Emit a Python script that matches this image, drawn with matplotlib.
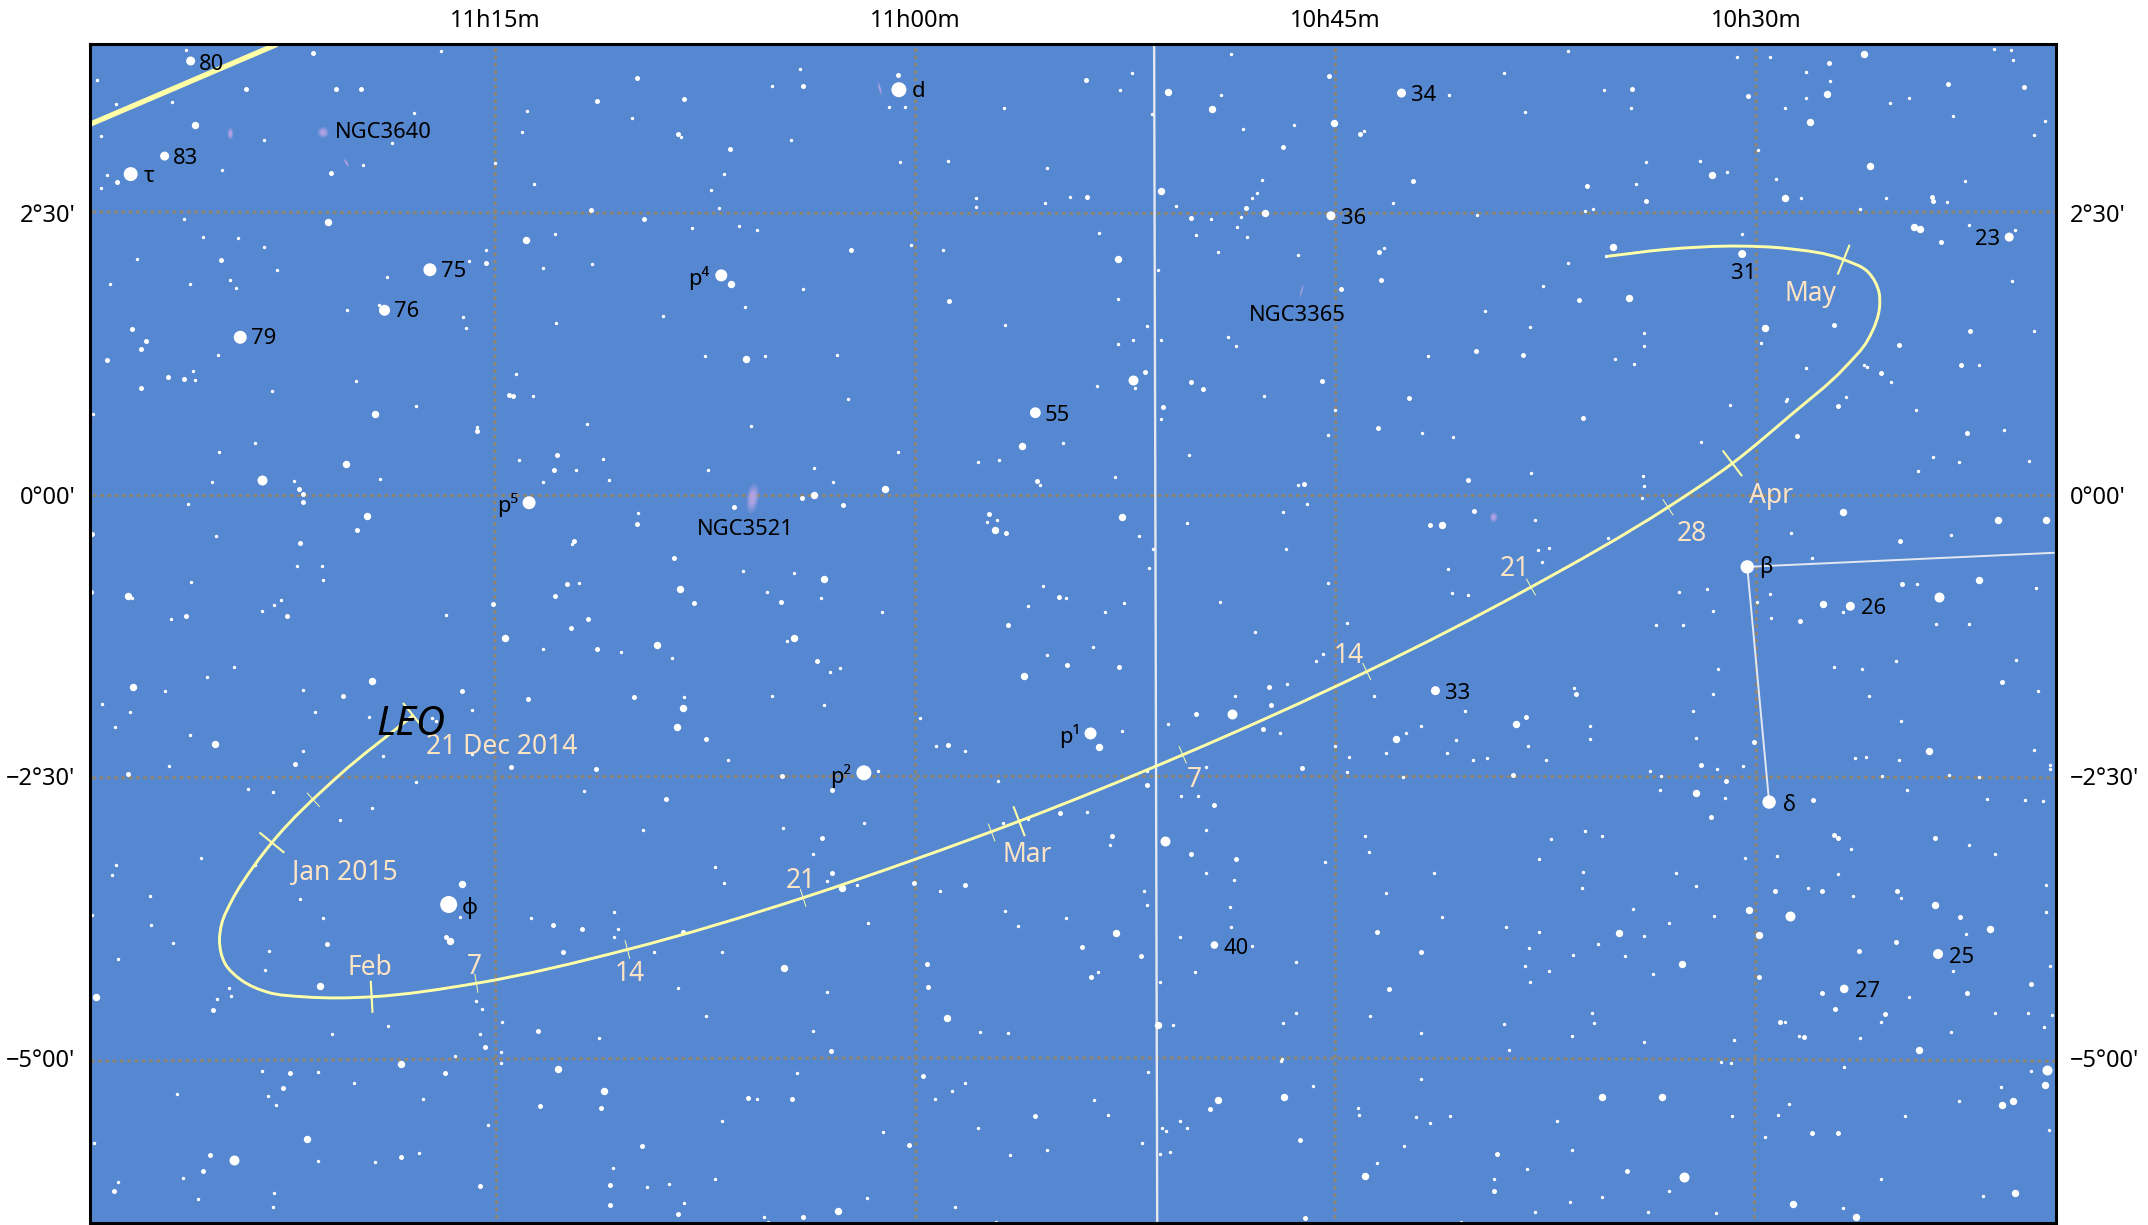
import numpy as np
import matplotlib
matplotlib.use("Agg")
import matplotlib.pyplot as plt
from matplotlib.path import Path
from matplotlib.patches import PathPatch
from matplotlib.collections import EllipseCollection

plt.rcParams['font.family'] = ['Noto Sans', 'DejaVu Sans']

# All sky positions: (right ascension in minutes after 10h, declination in degrees)
faint_stars = [
(86.05,3.95),(76.93,3.94),(89.20,3.69),(73.87,3.41),(88.52,3.47),(86.54,3.49),(77.88,3.39),(70.13,3.35),(89.08,3.19),(83.26,3.15),
(78.67,3.13),(74.04,3.22),(68.35,3.18),(75.00,2.95),(84.74,2.89),(79.73,2.93),(88.85,2.84),(89.08,2.73),(73.61,2.76),(86.10,2.45),
(85.43,2.29),(84.17,2.28),(83.24,2.20),(72.88,2.32),(67.98,2.37),(87.80,2.10),(75.32,2.18),(75.94,2.08),(82.79,2.00),(73.31,2.02),
(71.55,2.05),(78.86,1.94),(84.47,1.91),(88.74,1.87),(85.89,1.87),(84.25,1.84),(79.16,1.69),(80.29,1.64),(76.15,1.58),(76.03,1.48),
(72.83,1.53),(69.00,1.59),(84.90,1.24),(85.78,1.10),(85.71,1.02),(79.97,1.01),(82.95,0.92),(74.27,1.07),(73.66,0.88),
(89.35,.72),(77.82,.79),(75.65,.60),(71.73,.63),(83.56,.46),(84.87,.38),(74.14,.31),(71.16,.32),(72.11,.22),(79.11,.14),(85.11,.11),
(82.19,.12),(73.31,.11),(70.92,.13),(85.97,-.08),(69.91,-.16),(84.95,-.37),(72.27,-.44),(82.06,-.63),(81.18,-.63),(81.15,-.76),
(85.86,-.77),(72.02,-.78),(87.96,-.92),(82.65,-.93),(82.89,-.98),(83.34,-1.03),(86.57,-1.10),(76.77,-1.07),(73.28,-1.37),
(70.50,-1.40),(68.69,-1.45),(84.33,-1.53),(85.27,-1.62),(86.77,-1.74),(81.85,-1.73),(89.04,-1.86),(68.25,-1.80),(88.02,-1.93),
(81.44,-1.93),(79.51,-1.97),(77.25,-1.98),(77.12,-2.01),(75.84,-1.91),(88.58,-2.06),(85.90,-2.13),(81.85,-2.28),(79.02,-2.32),
(75.81,-2.30),(86.65,-2.41),(77.84,-2.55),(83.83,-2.61),(82.94,-2.64),(71.84,-2.63),(79.40,-2.78),(80.55,-2.89),(69.74,-2.98),
(85.51,-3.23),(88.55,-3.29),(88.66,-3.38),(83.59,-3.29),(81.97,-3.59),(87.31,-3.56),(89.38,-3.73),(81.14,-3.76),(76.26,-3.75),
(73.71,-3.76),(70.76,-3.71),(87.29,-3.82),(70.60,-3.86),(70.77,-3.93),(86.49,-3.98),(83.07,-4.05),(69.34,-4.06),(88.47,-4.12),
(83.23,-4.22),(84.50,-4.38),(84.44,-4.45),(84.93,-4.48),(68.48,-4.38),(75.68,-4.50),(75.46,-4.57),(78.82,-4.72),(80.82,-4.79),
(75.54,-4.79),(74.74,-4.68),(71.31,-4.83),
(74.81,-4.95),(74.79,-5.05),(76.43,-4.99),(83.32,-5.12),(81.33,-5.13),(80.05,-5.23),(86.35,-5.32),(83.11,-5.34),(77.57,-5.37),
(82.81,-5.42),(75.24,-5.60),(89.32,-5.76),(77.71,-5.85),(79.30,-5.93),(81.34,-5.92),(70.80,-5.98),(86.16,-6.07),(88.47,-6.11),
(82.89,-6.20),(69.59,-6.15),(68.78,-6.12),(85.60,-6.26),(82.94,-6.33),(68.25,-6.29),
(64.11,3.78),(65.12,3.63),(60.95,3.45),(60.38,3.45),(52.28,3.75),(52.69,3.60),(48.73,3.92),(49.10,3.55),(56.85,3.44),(51.57,3.38),
(48.30,3.25),(46.49,3.29),(44.00,3.23),(64.43,3.15),(60.55,2.96),(58.85,2.97),(55.29,2.90),(66.84,2.85),(67.30,2.71),(47.64,2.80),
(67.01,2.55),(57.84,2.64),(57.84,2.56),(55.36,2.59),(54.49,2.65),(50.71,2.57),(47.99,2.64),(47.81,2.68),(49.45,2.45),(48.39,2.47),
(42.94,2.59),(66.28,2.39),(65.65,2.35),(53.46,2.33),(48.54,2.38),(49.98,2.31),(48.18,2.29),(60.16,2.22),(59.02,2.18),(49.21,2.16),
(46.34,2.13),(43.29,2.19),(51.34,2.00),(64.02,1.83),(66.09,1.67),(52.76,1.74),(56.79,1.51),(51.74,1.50),(52.78,1.34),(52.22,1.38),
(51.22,1.38),(48.83,1.40),(48.56,1.32),(67.51,1.23),(65.37,1.23),(62.79,1.24),(52.16,.95),(53.53,.97),(47.57,.88),(62.40,.85),
(41.71,1.23),(40.97,3.55),
(65.88,.61),(51.23,.67),(45.04,.75),(45.29,.53),(54.73,.46),(60.63,.38),(57.76,.29),(57.03,.31),(50.25,.35),(67.39,.22),(63.63,.24),
(52.88,.16),(46.36,.09),(62.93,.11),(55.55,.09),(46.04,-.08),(46.87,-.15),(57.09,-.22),(57.46,-.24),(50.30,-.25),(52.02,-.37),
(51.51,-.48),(46.78,-.48),(51.67,-.65),(66.17,-.68),(64.35,-.69),(45.26,-.78),(65.30,-.86),(55.43,-.81),(63.38,-.92),(54.64,-.92),
(52.57,-.96),(49.14,-.95),(56.00,-.99),(61.21,-1.04),(53.22,-1.04),(44.61,-1.14),(47.89,-1.22),(64.59,-1.30),(53.68,-1.35),
(55.31,-1.42),(45.45,-1.41),(45.71,-1.48),(63.06,-1.57),(62.71,-1.54),(65.11,-1.79),(63.25,-1.87),(43.64,-1.79),(46.75,-1.68),
(48.60,-1.79),(59.85,-1.98),(50.99,-2.04),(46.97,-2.12),(52.63,-2.10),(59.26,-2.23),(58.24,-2.28),(45.01,-2.23),(43.22,-2.29),
(44.53,-2.33),(66.68,-2.36),(49.62,-2.42),(51.74,-2.45),(44.61,-2.46),(61.35,-2.45),(57.06,-2.54),(50.52,-2.68),(49.92,-2.68),
(64.71,-2.96),(61.84,-2.92),(53.89,-2.82),(56.89,-2.92),(55.99,-2.88),(49.62,-2.98),(53.06,-3.11),(43.96,-3.03),(63.65,-3.19),
(43.81,-3.17),(45.37,-3.26),(67.15,-3.31),(63.14,-3.43),(49.63,-3.36),(48.63,-3.42),(66.85,-3.45),(62.07,-3.47),(59.12,-3.52),
(51.83,-3.52),(43.19,-3.54),(51.74,-3.64),(48.77,-3.66),(56.79,-3.70),(54.64,-3.76),(61.69,-3.80),(56.33,-3.83),(48.75,-3.84),
(50.54,-3.93),(48.00,-4.01),(66.91,-4.06),(46.40,-4.15),(53.49,-4.24),(50.03,-4.24),(51.26,-4.33),(63.17,-4.42),(67.49,-4.63),
(46.41,-4.60),(43.78,-4.63),(46.87,-4.69),(50.81,-4.71),(63.65,-4.76),(57.68,-4.77),(56.69,-4.78),(46.90,-5.01),(46.94,-5.03),
(64.24,-5.14),(51.69,-5.13),(58.24,-5.23),(58.69,-5.30),(65.66,-5.37),(59.31,-5.37),(53.62,-5.38),(45.81,-5.25),(53.14,-5.51),
(44.19,-5.45),(44.16,-5.51),(66.91,-5.56),(50.54,-5.56),(51.21,-5.63),(51.05,-5.65),(50.30,-5.63),(57.75,-5.63),(61.14,-5.66),
(51.90,-5.76),(55.32,-5.82),(50.92,-5.84),(56.63,-5.87),(51.26,-5.86),(43.54,-5.94),(67.14,-6.08),(61.73,-6.25),(65.40,-6.42),
(58.59,-6.33),(65.26,-6.46),(57.14,-6.46),
(36.71,3.94),(38.98,3.75),(30.69,3.89),(29.51,3.89),(21.50,3.96),(20.88,3.95),(20.83,3.86),(28.21,3.76),(27.35,3.68),(35.44,3.60),
(28.21,3.53),(24.53,3.53),(25.20,3.48),(34.45,3.44),(28.96,3.44),(38.26,3.40),(22.95,3.37),(19.67,3.32),(20.07,3.20),(29.94,3.06),
(33.94,2.96),(31.98,2.97),(31.04,2.87),(29.28,2.81),(22.54,2.79),(34.27,2.76),(28.39,2.64),(25.36,2.64),(23.19,2.60),(35.82,2.54),
(36.11,2.52),(26.30,2.54),(39.95,2.49),(22.41,2.40),(20.74,2.35),(30.49,2.32),(35.36,2.12),(36.71,2.06),(37.61,1.86),(20.85,1.90),
(39.66,1.63),(38.07,1.49),(20.08,1.46),(33.99,1.44),(29.82,1.35),(33.99,1.32),(35.02,1.21),(34.35,1.16),(28.23,1.13),(26.16,1.15),
(26.05,1.14),(22.03,1.15),(25.17,1.00),(26.80,.87),(28.90,.85),
(30.91,.80),(28.93,.83),(24.28,.75),(41.91,.55),(40.82,.51),(21.16,.58),(31.95,.47),(23.67,.34),(22.77,.29),(20.26,.30),(38.03,.19),
(34.04,.17),(34.01,.08),(34.06,-.03),(24.20,.21),(37.88,-.22),(35.27,-.38),(28.75,-.34),(23.04,-.36),(37.37,-.47),(37.77,-.49),
(37.64,-.60),(40.98,-.66),(27.99,-.56),(24.25,-.79),(19.99,-.83),(40.84,-.87),(40.26,-.89),(32.75,-.86),(31.74,-.84),(29.49,-.88),
(29.95,-.95),(26.91,-1.04),(31.54,-1.03),(29.46,-1.09),(33.58,-1.16),(32.60,-1.16),(23.58,-1.15),(22.39,-1.15),(20.72,-1.47),
(25.01,-1.48),(27.23,-1.53),(26.21,-1.55),(31.37,-1.55),(19.92,-1.74),(36.51,-1.72),(31.54,-1.77),(25.97,-1.79),(40.38,-1.92),
(32.24,-1.92),(41.95,-2.05),(35.92,-2.05),(24.84,-2.01),(42.49,-2.12),(40.70,-2.18),(35.93,-2.17),(32.13,-2.16),(38.13,-2.23),
(20.07,-2.27),(41.04,-2.29),(39.61,-2.34),(40.09,-2.36),(37.48,-2.36),(26.46,-2.34),(26.07,-2.33),(24.91,-2.36),(19.50,-2.40),
(19.50,-2.44),(31.40,-2.44),(30.45,-2.41),(33.77,-2.45),(42.59,-2.51),(33.38,-2.50),(25.51,-2.50),(23.12,-2.49),(22.03,-2.51),
(33.41,-2.62),(24.62,-2.62),(31.10,-2.69),(21.76,-2.70),(20.40,-2.71),(19.77,-2.72),
(36.10,-2.99),(35.49,-3.03),(37.31,-3.06),(22.39,-3.11),(26.62,-3.15),(21.45,-3.19),(29.26,-3.21),(30.40,-3.23),(37.74,-3.24),
(41.49,-3.36),(36.19,-3.35),(32.85,-3.36),(27.08,-3.37),(32.15,-3.48),(36.21,-3.49),(28.15,-3.49),(26.55,-3.56),(24.81,-3.58),
(19.63,-3.47),(34.38,-3.68),(31.50,-3.74),(19.65,-3.71),(41.21,-3.75),(38.93,-3.84),(37.76,-3.88),(33.11,-3.80),(33.99,-3.92),
(22.51,-3.90),(38.10,-4.03),(35.63,-3.99),(36.53,-4.09),(34.69,-4.10),(38.23,-4.19),(37.38,-4.23),(33.69,-4.26),(22.95,-4.23),
(19.51,-4.19),(38.08,-4.33),(24.55,-4.46),(35.85,-4.60),(21.47,-4.60),(20.28,-4.60),(19.44,-4.62),(35.78,-4.69),(38.98,-4.70),
(28.98,-4.68),(25.54,-4.68),(41.95,-4.78),(23.02,-4.77),(19.73,-4.73),(36.58,-4.81),(28.47,-4.81),(26.27,-4.83),(34.01,-4.86),
(30.79,-4.84),(38.80,-4.93),(31.25,-5.04),(30.89,-5.05),(26.84,-5.08),(41.96,-5.19),(20.19,-5.12),(21.25,-5.26),(28.81,-5.41),
(22.75,-5.39),(42.15,-5.53),(40.93,-5.52),(30.84,-5.52),(29.22,-5.51),(24.69,-5.52),(41.62,-5.58),(37.11,-5.56),(29.68,-5.71),
(19.55,-5.64),(42.56,-5.79),(36.55,-5.82),(38.18,-5.99),(39.36,-6.08),(25.53,-6.08),(33.09,-6.19),(21.88,-6.23),(36.63,-6.28),
(35.49,-6.24),(26.89,-6.34),(37.89,-6.37),(33.86,-6.37),(31.42,-6.38),(40.52,-6.46),
]

medium_stars = [
(81.52,3.93),(83.89,3.61),(80.67,3.61),(79.78,3.61),(69.93,3.70),(71.36,3.50),(68.25,3.52),(68.48,3.21),(80.85,2.86),(88.49,2.78),
(71.59,2.53),(69.69,2.45),(84.80,2.09),(75.33,2.06),(87.96,1.47),(87.45,1.37),(87.63,1.30),(88.85,1.20),(86.67,1.05),(86.11,1.03),
(87.63,.95),(74.50,.89),(74.38,.88),(75.64,.57),(72.78,.35),(72.89,.22),(82.00,.05),(81.85,.01),(81.85,-.06),(79.94,-.31),(69.93,-.26),
(89.38,-.35),(81.98,-.43),(72.19,-.41),(68.60,-.56),(72.42,-.79),(89.43,-.86),(72.86,-.90),(75.08,-.97),(67.89,-.96),(86.03,-1.08),
(82.43,-1.08),(71.70,-1.10),(72.29,-1.18),(71.35,-1.37),(80.42,-1.79),(76.19,-1.74),(73.82,-1.81),(70.04,-1.80),(82.16,-2.39),
(88.10,-2.48),(74.43,-2.42),(71.41,-2.44),(68.89,-2.70),(72.94,-3.82),(71.89,-3.86),(68.30,-3.88),(76.74,-3.93),(81.01,-3.99),
(72.57,-4.06),(85.07,-4.58),(73.47,-4.76),(75.36,-4.91),(82.33,-5.14),(76.78,-5.14),(82.57,-5.27),(73.39,-5.43),(71.24,-5.45),
(69.75,-5.79),(85.19,-5.87),(78.35,-5.88),(85.44,-6.01),(88.60,-6.19),(75.54,-6.14),(70.90,-6.13),(70.90,-6.31),(68.49,-6.39),
(64.00,3.63),(60.64,3.73),(53.92,3.69),(45.24,3.72),(44.12,3.21),(66.62,3.07),(46.88,3.09),(53.89,2.65),(48.20,2.55),(50.15,2.46),
(62.31,2.18),(43.47,2.16),(44.82,1.83),(43.40,1.91),(58.81,1.72),(51.79,1.09),(50.15,1.00),(49.75,.94),(45.50,1.01),(42.39,.86),(42.24,2.79),
(51.18,.78),(43.48,.59),(46.14,.10),(55.67,.12),(64.05,-.03),(66.48,-.11),(62.58,-.09),(57.38,-.17),(56.77,-.34),(54.86,-.91),(64.81,-.95),
(56.69,-1.16),(63.53,-1.48),(54.59,-1.51),(52.72,-1.53),(47.38,-1.71),(47.30,-1.87),(49.97,-1.95),(47.59,-2.08),(67.47,-2.17),(58.85,-2.22),
(46.22,-2.43),(64.76,-2.50),(62.98,-2.62),(51.72,-2.58),
(49.34,-2.76),(54.85,-2.83),(63.34,-3.05),(52.98,-3.03),(50.17,-3.19),(48.56,-3.24),(62.99,-3.36),(60.04,-3.45),(58.23,-3.47),(43.51,-3.88),
(54.05,-4.02),(51.96,-4.10),(59.58,-4.17),(53.73,-4.28),(59.55,-4.37),(43.11,-4.39),(63.01,-4.94),(59.74,-5.16),(65.99,-5.36),(64.41,-5.37),
(49.49,-5.46),(55.74,-5.52),(60.23,-5.78),(46.27,-5.73),(64.01,-6.42),(46.09,-6.43),
(27.39,3.84),(23.13,3.65),(20.45,3.62),(34.43,3.61),(30.27,3.54),(36.03,2.74),(23.72,2.65),(23.67,2.61),(33.94,2.61),(23.40,2.25),(36.30,1.73),
(27.23,1.51),(22.36,1.46),(24.90,1.33),(39.98,1.28),(38.31,1.24),(22.68,1.15),(25.54,1.08),
(27.08,.79),(36.19,.68),(22.46,.55),(28.54,.52),(40.26,.13),(40.06,-.14),(41.62,-.27),(24.86,-.41),(24.78,-.79),(28.42,-1.12),(21.20,-1.66),
(36.41,-1.77),(38.22,-1.97),(30.07,-2.20),(31.95,-2.40),(38.68,-2.49),(31.08,-2.54),(27.98,-2.71),(31.61,-2.86),
(27.21,-3.02),(27.08,-3.05),(23.60,-3.05),(29.31,-3.52),(27.64,-3.52),(24.98,-3.52),(22.71,-3.75),(25.00,-3.97),(26.31,-4.05),(41.96,-4.06),
(29.89,-4.28),(27.65,-4.43),(22.46,-4.43),(20.18,-4.35),(27.19,-4.57),(25.39,-4.61),(29.15,-4.68),(28.27,-4.82),(28.01,-5.67),(27.08,-5.67),
(39.24,-5.86),(34.61,-6.01),(39.36,-6.19),
]

bright_stars = [
(85.71,3.29),(80.98,2.42),(73.91,2.26),(79.30,.72),(80.31,.27),(79.57,-.19),(74.65,-1.27),(69.24,-1.33),(68.41,-.84),(88.12,-.90),
(87.94,-1.71),(79.40,-1.65),(68.30,-1.89),(68.51,-2.06),(85.00,-2.21),(76.19,-3.46),(76.61,-3.96),(81.25,-4.36),(89.24,-4.46),
(78.35,-5.06),(72.75,-5.10),(71.12,-5.30),(81.73,-5.72),
(50.97,3.58),(49.41,3.43),(45.06,3.30),(51.22,2.70),(47.52,2.50),(52.78,2.10),(66.60,1.87),(66.06,1.21),
(56.20,.43),(63.63,.00),(61.08,.05),(57.16,-.31),(52.63,-.20),(63.25,-.75),(64.33,-1.27),(56.11,-1.61),(53.44,-2.24),(42.84,-2.17),
(62.61,-3.49),(52.85,-3.89),(64.68,-4.20),(58.89,-4.65),(51.35,-4.71),(46.86,-5.35),(49.20,-5.38),(62.75,-6.36),(43.96,-6.05),
(26.13,3.92),(27.48,3.56),(28.07,3.31),(31.58,2.84),(25.93,2.92),(28.96,2.64),(24.36,2.38),(24.16,2.36),(35.10,2.20),(34.54,1.75),(29.68,1.48),
(26.91,-.15),(21.37,-.22),(19.63,-.22),(41.20,-.27),(22.05,-.76),(27.60,-.97),(38.57,-2.04),(23.84,-2.28),(32.15,-2.65),
(23.60,-3.64),(30.24,-3.69),(34.89,-3.89),(29.89,-3.91),(21.64,-3.86),(32.63,-4.17),(24.18,-4.93),(19.68,-5.24),(35.51,-5.35),(33.34,-5.35),
(20.82,-5.39),(21.22,-5.42),(20.77,-6.20),(28.69,-6.30),(26.44,-6.42),
]

large_stars = [(83.34,.13),(23.48,-.91),(28.80,-3.74),(51.11,-3.08),(52.25,1.02),(84.31,-5.91),(48.71,-1.95),(32.58,-6.06),(19.61,-5.11)]

named_stars = ['80','83','τ','75','76','79','p4','d','34','36','23','31','55','p5','β','26','33','p1','p2','δ','φ','40','25','27']
named_ra  = [85.87,86.80,88.01,77.33,78.95,84.10,66.93,60.59,42.65,45.17,20.96,30.49,55.72,73.79,30.31,26.63,41.44,53.75,61.84,29.53,76.66,49.33,23.50,26.85]
named_dec = [3.855,3.01,2.85,2.00,1.64,1.40,1.95,3.60,3.57,2.48,2.29,2.14,.73,-.07,-.64,-.99,-1.74,-2.12,-2.47,-2.73,-3.64,-4.00,-4.08,-4.39]
named_mag = [6.35,6.35,5.1,5.35,5.85,5.35,5.6,4.85,6.35,6.35,6.35,6.6,5.9,5.35,5.25,6.35,6.35,5.6,4.85,5.25,4.35,6.7,6.1,6.45]

# Faint galaxies
gal_ra   = [84.45,81.14,80.31,61.27,46.22,65.81,39.36]
gal_dec  = [3.21,3.22,2.95,3.61,1.81,-.03,-.20]
gal_maj  = [12,11,10,15,15,30,10]   # apparent long axis
gal_min  = [6,11,3,2.5,2,12,8]      # apparent short axis
gal_ang  = [90,0,120,105,75,82,90]

# Track of the comet
track_ra  = [77.93,80.56,82.97,83.59,84.39,84.76,84.84,84.63,84.07,83.11,81.84,80.56,79.41,75.67,70.28,
             64.01,60.03,56.30,50.46,43.89,38.03,33.14,30.84,28.80,26.85,26.01,25.58,25.60,26.00,26.87,28.93,30.54,33.24,35.29]
track_dec = [-1.96,-2.49,-3.09,-3.29,-3.60,-3.81,-3.96,-4.17,-4.31,-4.42,-4.46,-4.47,-4.46,-4.34,-4.04,
             -3.58,-3.24,-2.90,-2.31,-1.57,-.82,-.11,.28,.70,1.126,1.375,1.70,1.79,1.98,2.09,2.19,2.21,2.18,2.12]

month_tick_ra  = [77.93,82.97,79.41,56.30,30.84,26.87]
month_tick_dec = [-1.96,-3.09,-4.46,-2.90,.28,2.09]
week_tick_ra   = [81.49,75.67,70.28,64.01,57.28,50.46,43.89,38.03,33.14]
week_tick_dec  = [-2.71,-4.34,-4.04,-3.58,-3.00,-2.31,-1.57,-.82,-.11]

# Lines of the constellation and the boundary, and the ecliptic
boundary_ra, boundary_dec = [51.48,51.37], [4.0,-6.47]
beta_right_ra, beta_right_dec = [30.31,19.37], [-.64,-.515]
beta_delta_ra, beta_delta_dec = [30.31,29.53], [-.64,-2.73]
ecliptic_ra, ecliptic_dec = [89.44,82.79], [3.295,4.003]

# Text
star_labels = ['80','NGC3640','83','τ','75','76','79','p⁴','d','34','36','31','23','NGC3365','55','p⁵','NGC3521','β','26','33','p¹','p²','δ','φ','40','25','27']
star_lab_ra  = [85.12,78.99,86.05,87.37,76.50,78.16,83.26,67.73,59.89,41.86,44.36,30.44,21.72,46.36,54.94,74.54,66.06,29.66,25.79,40.63,54.50,62.68,28.82,75.91,48.57,22.65,26.03]
star_lab_dec = [3.85,3.24,3.01,2.85,2.01,1.65,1.41,1.95,3.61,3.57,2.48,1.99,2.29,1.62,.73,-.07,-.29,-.62,-.99,-1.74,-2.12,-2.48,-2.74,-3.65,-4.01,-4.09,-4.39]

date_labels = ['May','Apr','28','21','14','21 Dec 2014','7','Mar','Jan 2015','21','Feb','7','14']
date_lab_ra  = [28.04,29.46,32.30,38.62,44.55,74.78,50.04,56.02,80.37,64.10,79.49,75.76,70.18]
date_lab_dec = [1.82,.02,-.32,-.63,-1.40,-2.21,-2.50,-3.17,-3.33,-3.40,-4.17,-4.16,-4.23]

ra_ticks = [75,60,45,30]
ra_tick_labels = ['11h15m','11h00m','10h45m','10h30m']
dec_ticks = [2.5,0,-2.5,-5]
dec_tick_labels = ["2°30'","0°00'","−2°30'","−5°00'"]

BG, GRID, TRACK, PEACH, LINE = '#5588d0', '#8f8672', '#ffffa8', '#ffe4c4', '#e4e8f0'
W, H = 2148, 1225
RA_L, RA_R, DEC_T, DEC_B = 89.48, 19.29, 4.006, -6.47

fig = plt.figure(figsize=(W/100, H/100), dpi=100, facecolor='white')
ax = fig.add_axes([89.5/W, 1-1223/H, (2056-89.5)/W, (1223-44)/H], facecolor=BG)
ax.set_xlim(RA_L, RA_R)
ax.set_ylim(DEC_B, DEC_T)

def px(r):
    return (2*r*0.72)**2

def sky(ra, dec, ra0=54.4):
    """Stereographic bend of the coordinate grid."""
    dl = np.radians((np.asarray(ra, float)-ra0)*0.25)
    ph = np.radians(np.asarray(dec, float))
    k = 2/(1+np.cos(ph)*np.cos(dl))
    return ra0+np.degrees(k*np.cos(ph)*np.sin(dl))*4, np.degrees(k*np.sin(ph))

grid_style = dict(color=GRID, lw=2.1, dashes=(1.25, 1.25), dash_capstyle='butt', zorder=1)
for r in ra_ticks:
    d = np.linspace(-6.6, 4.1, 60)
    ax.plot(*sky(np.full_like(d, r), d), **grid_style)
for de in dec_ticks:
    r = np.linspace(18, 91, 120)
    ax.plot(*sky(r, np.full_like(r, de)), **grid_style)

ax.plot(boundary_ra, boundary_dec, color=LINE, lw=1.7, zorder=2)
ax.plot(beta_right_ra, beta_right_dec, color=LINE, lw=1.4, zorder=2)
ax.plot(beta_delta_ra, beta_delta_dec, color=LINE, lw=1.4, zorder=2)

for stars, r in ((faint_stars, 1.7), (medium_stars, 2.5), (bright_stars, 3.7), (large_stars, 5.0)):
    a = np.array(stars).T
    ax.scatter(a[0], a[1], s=px(r), color='white', lw=0, zorder=3)
nr = 2*(8.6-np.array(named_mag))
ax.scatter(named_ra, named_dec, s=px(nr), color='white', lw=0, zorder=3)

for k, alpha in ((1.0, .25), (.75, .35), (.5, .6)):
    ec = EllipseCollection(np.array(gal_maj)*.72*k, np.array(gal_min)*.72*k, gal_ang, units='points',
                           offsets=np.c_[gal_ra, gal_dec], offset_transform=ax.transData,
                           facecolors='#c4a8e8', edgecolors='none', alpha=alpha, zorder=2.5)
    ax.add_collection(ec)

ax.plot(ecliptic_ra, ecliptic_dec, color=TRACK, lw=3.8, zorder=4, solid_capstyle='butt')

# Smooth curve through the read track points, drawn as Bezier segments
XS, YS = 28.0, 112.5   # picture pixels per RA minute and per degree
P = np.c_[track_ra, track_dec]
Q = P*[XS, YS]
seg = np.hypot(*np.diff(Q, axis=0).T)
T = np.zeros_like(Q)
T[0] = (Q[1]-Q[0])/seg[0]
T[-1] = (Q[-1]-Q[-2])/seg[-1]
for i in range(1, len(Q)-1):
    # tangent weighted towards the nearer neighbour
    t = (Q[i]-Q[i-1])/seg[i-1]*seg[i] + (Q[i+1]-Q[i])/seg[i]*seg[i-1]
    T[i] = t/np.hypot(*t)
verts, codes = [P[0]], [Path.MOVETO]
for i in range(len(P)-1):
    c1 = (Q[i]+T[i]*seg[i]/3)/[XS, YS]
    c2 = (Q[i+1]-T[i+1]*seg[i]/3)/[XS, YS]
    verts += [c1, c2, P[i+1]]
    codes += [Path.CURVE4]*3
ax.add_patch(PathPatch(Path(np.array(verts), codes), fc='none', ec=TRACK, lw=2.1, capstyle='butt', zorder=4))

def tick(ra, dec, half, lw):
    i = int(np.argmin((P[:, 0]-ra)**2+((P[:, 1]-dec)*4)**2))
    tx, ty = T[i]
    nx, ny = -ty, tx
    ax.plot([ra-nx*half/XS, ra+nx*half/XS], [dec-ny*half/YS, dec+ny*half/YS], color=TRACK, lw=lw, zorder=4)

for r, d in zip(month_tick_ra, month_tick_dec):
    tick(r, d, 15, 1.5)
for r, d in zip(week_tick_ra, week_tick_dec):
    tick(r, d, 9, 0.7)

for t, r, d in zip(star_labels, star_lab_ra, star_lab_dec):
    ax.text(r, d, t, color='black', fontsize=15.8, ha='center', va='center_baseline', zorder=6)
for t, r, d in zip(date_labels, date_lab_ra, date_lab_dec):
    ax.text(r, d, t, color=PEACH, fontsize=19, fontweight='medium', ha='center', va='center_baseline', zorder=6)
ax.text(78.02, -2.00, 'LEO', color='black', fontsize=29, style='italic', ha='center', va='center_baseline', zorder=6)

ax.set_xticks(ra_ticks, ra_tick_labels)
ax.set_yticks(dec_ticks, dec_tick_labels)
ax.tick_params(axis='x', top=True, bottom=False, labeltop=True, labelbottom=False, length=0, pad=8, labelsize=17, colors='black')
ax.tick_params(axis='y', left=True, right=True, labelleft=True, labelright=True, length=0, pad=10, labelsize=17, colors='black')
for s in ax.spines.values():
    s.set_linewidth(2.2)
    s.set_color('black')
    s.set_zorder(7)
fig.savefig('out.png', dpi=100)
